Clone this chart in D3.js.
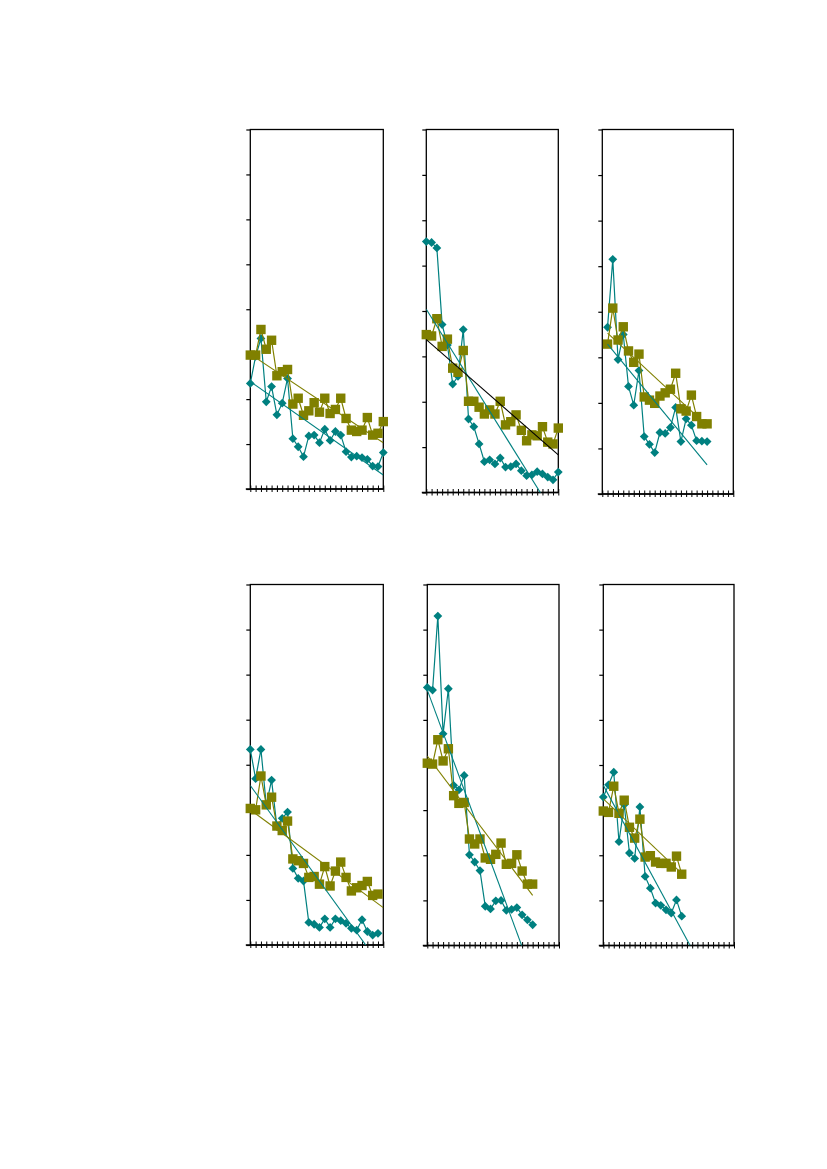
<!DOCTYPE html>
<html>
<head>
<meta charset="utf-8">
<script src="https://cdn.jsdelivr.net/npm/d3@7"></script>
<style>
  html, body { margin: 0; padding: 0; background: #ffffff; }
  svg { display: block; }
</style>
</head>
<body>
<svg id="chart" width="827" height="1169"></svg>
<script>
// ---- data (y axis 0..8, x = period index) ----
const yTicks = [0, 1, 2, 3, 4, 5, 6, 7, 8];
const xTickValues = d3.range(0, 26, 1);

const xStart = [0, 0, 1, 0, 0, 0];

const tealP1 = [2.35, 2.95, 3.35, 1.94, 2.28, 1.65, 1.91, 2.46, 1.12, 0.94, 0.72, 1.18, 1.20, 1.03, 1.33, 1.08, 1.28, 1.20, 0.83, 0.71, 0.73, 0.70, 0.66, 0.51, 0.50, 0.81];
const oliveP1 = [2.98, 2.98, 3.55, 3.11, 3.31, 2.52, 2.61, 2.66, 1.89, 2.02, 1.64, 1.74, 1.92, 1.71, 2.02, 1.68, 1.77, 2.02, 1.57, 1.31, 1.28, 1.31, 1.59, 1.20, 1.24, 1.50];

const tealP2 = [5.53, 5.51, 5.39, 3.70, 3.25, 2.39, 2.56, 3.59, 1.62, 1.45, 1.07, 0.68, 0.72, 0.63, 0.76, 0.56, 0.57, 0.63, 0.48, 0.37, 0.39, 0.46, 0.41, 0.34, 0.28, 0.45];
const oliveP2 = [3.48, 3.45, 3.83, 3.22, 3.38, 2.74, 2.65, 3.13, 2.01, 2.01, 1.88, 1.73, 1.82, 1.73, 2.01, 1.49, 1.56, 1.71, 1.37, 1.14, 1.27, 1.25, 1.45, 1.11, 1.07, 1.42];

const tealP3 = [3.66, 5.15, 2.95, 3.50, 2.36, 1.95, 2.71, 1.26, 1.09, 0.91, 1.35, 1.33, 1.46, 1.90, 1.15, 1.65, 1.51, 1.17, 1.16, 1.15];
const oliveP3 = [3.29, 4.08, 3.38, 3.67, 3.14, 2.89, 3.07, 2.13, 2.06, 1.99, 2.15, 2.22, 2.30, 2.65, 1.87, 1.82, 2.17, 1.70, 1.54, 1.54];

const tealP4 = [4.34, 3.69, 4.34, 3.11, 3.66, 2.63, 2.81, 2.95, 1.70, 1.48, 1.42, 0.50, 0.46, 0.39, 0.58, 0.39, 0.58, 0.54, 0.48, 0.37, 0.33, 0.56, 0.30, 0.22, 0.26];
const oliveP4 = [3.03, 3.00, 3.75, 3.11, 3.28, 2.64, 2.54, 2.75, 1.91, 1.87, 1.81, 1.50, 1.52, 1.35, 1.74, 1.31, 1.64, 1.84, 1.50, 1.20, 1.27, 1.32, 1.41, 1.10, 1.13];

const tealP5 = [5.72, 5.66, 7.30, 4.69, 5.69, 3.55, 3.45, 3.77, 2.01, 1.85, 1.66, 0.87, 0.81, 0.99, 1.00, 0.78, 0.80, 0.84, 0.68, 0.57, 0.46];
const oliveP5 = [4.04, 4.02, 4.56, 4.09, 4.36, 3.32, 3.15, 3.17, 2.36, 2.25, 2.36, 1.94, 1.91, 2.02, 2.27, 1.80, 1.82, 2.01, 1.65, 1.36, 1.36];

const tealP6 = [3.29, 3.56, 3.84, 2.30, 3.12, 2.05, 1.93, 3.07, 1.53, 1.27, 0.94, 0.89, 0.79, 0.72, 1.01, 0.65];
const oliveP6 = [2.98, 2.95, 3.53, 2.93, 3.22, 2.62, 2.38, 2.80, 1.96, 1.99, 1.85, 1.82, 1.82, 1.74, 1.98, 1.58];

// trend lines: [x0, y0, x1, y1]
const tealTrend = [
  [0, 2.39, 25, 0.31],
  [0, 4.04, 25, -0.64],
  [1, 3.29, 20, 0.64],
  [0, 3.54, 25, -0.54],
  [0, 5.66, 20, -0.66],
  [0, 3.55, 16.6, 0]
];
const oliveTrend = [
  [0, 3.00, 25, 1.03],
  [0, 3.37, 25, 0.83],
  [1, 3.53, 20, 1.50],
  [0, 3.00, 25, 0.83],
  [0, 4.20, 20, 1.11],
  [0, 3.25, 15, 1.60]
];
const oliveTrendColor = ["#808000", "#000000", "#808000", "#808000", "#808000", "#808000"];

const tealSeries = [tealP1, tealP2, tealP3, tealP4, tealP5, tealP6];
const oliveSeries = [oliveP1, oliveP2, oliveP3, oliveP4, oliveP5, oliveP6];

// ---- layout ----
const panels = [
  {left: 250.3, right: 383.3, top: 129.5, bottom: 489},
  {left: 426.3, right: 558.3, top: 129.5, bottom: 492.5},
  {left: 602.3, right: 733.3, top: 129.5, bottom: 494},
  {left: 250.3, right: 383.3, top: 584.5, bottom: 945},
  {left: 427.3, right: 559.0, top: 584.5, bottom: 945.5},
  {left: 603.3, right: 734.0, top: 584.5, bottom: 945.5}
];

const TEAL = "#008080";
const OLIVE = "#808000";

const svg = d3.select("#chart");

panels.forEach((p, i) => {
  const x = d3.scaleLinear().domain([0, 25]).range([p.left, p.right]);
  const y = d3.scaleLinear().domain([0, 8]).range([p.bottom, p.top]);
  const g = svg.append("g");

  const clipId = "clip" + i;
  svg.append("clipPath").attr("id", clipId)
    .append("rect")
    .attr("x", p.left).attr("y", p.top)
    .attr("width", p.right - p.left).attr("height", p.bottom - p.top);

  // frame
  g.append("rect")
    .attr("x", p.left).attr("y", p.top)
    .attr("width", p.right - p.left).attr("height", p.bottom - p.top)
    .attr("fill", "none").attr("stroke", "#000").attr("stroke-width", 1.3);

  // y axis ticks
  const yAxis = d3.axisLeft(y).tickValues(yTicks).tickSize(4).tickFormat("");
  const ya = g.append("g").attr("transform", `translate(${p.left},0)`).call(yAxis);
  ya.select(".domain").remove();
  ya.selectAll(".tick line").attr("stroke", "#000").attr("stroke-width", 1.2);

  // x axis ticks (crossing)
  const xAxis = d3.axisBottom(x).tickValues(xTickValues).tickSizeInner(3).tickSizeOuter(0).tickFormat("");
  const xa = g.append("g").attr("transform", `translate(0,${p.bottom})`).call(xAxis);
  xa.select(".domain").remove();
  xa.selectAll(".tick line").attr("y1", -3.5).attr("y2", 3).attr("stroke", "#000").attr("stroke-width", 1);
  g.append("line")
    .attr("x1", p.left - 4.5).attr("x2", p.right)
    .attr("y1", p.bottom).attr("y2", p.bottom)
    .attr("stroke", "#000").attr("stroke-width", 1.3);

  const plot = g.append("g");
  const trends = g.append("g").attr("clip-path", `url(#${clipId})`);

  const teal = tealSeries[i].map((v, k) => ({x: xStart[i] + k, y: v}));
  const olive = oliveSeries[i].map((v, k) => ({x: xStart[i] + k, y: v}));

  const line = d3.line().x(d => x(d.x)).y(d => y(d.y));

  // teal series
  plot.append("path").datum(teal)
    .attr("d", line).attr("fill", "none")
    .attr("stroke", TEAL).attr("stroke-width", 1.2);
  plot.selectAll("path.dia").data(teal).enter().append("path")
    .attr("class", "dia")
    .attr("d", d => {
      const cx = x(d.x), cy = y(d.y), r = 4.4;
      return `M${cx},${cy - r}L${cx + r},${cy}L${cx},${cy + r}L${cx - r},${cy}Z`;
    })
    .attr("fill", TEAL);

  // olive series
  plot.append("path").datum(olive)
    .attr("d", line).attr("fill", "none")
    .attr("stroke", OLIVE).attr("stroke-width", 1.2);
  plot.selectAll("rect.sq").data(olive).enter().append("rect")
    .attr("class", "sq")
    .attr("x", d => x(d.x) - 4.7).attr("y", d => y(d.y) - 4.7)
    .attr("width", 9.4).attr("height", 9.4)
    .attr("fill", OLIVE);

  // trend lines
  const tt = tealTrend[i];
  trends.append("line")
    .attr("x1", x(tt[0])).attr("y1", y(tt[1]))
    .attr("x2", x(tt[2])).attr("y2", y(tt[3]))
    .attr("stroke", TEAL).attr("stroke-width", 1.1);
  const ot = oliveTrend[i];
  trends.append("line")
    .attr("x1", x(ot[0])).attr("y1", y(ot[1]))
    .attr("x2", x(ot[2])).attr("y2", y(ot[3]))
    .attr("stroke", oliveTrendColor[i]).attr("stroke-width", 1.1);
});
</script>
</body>
</html>
